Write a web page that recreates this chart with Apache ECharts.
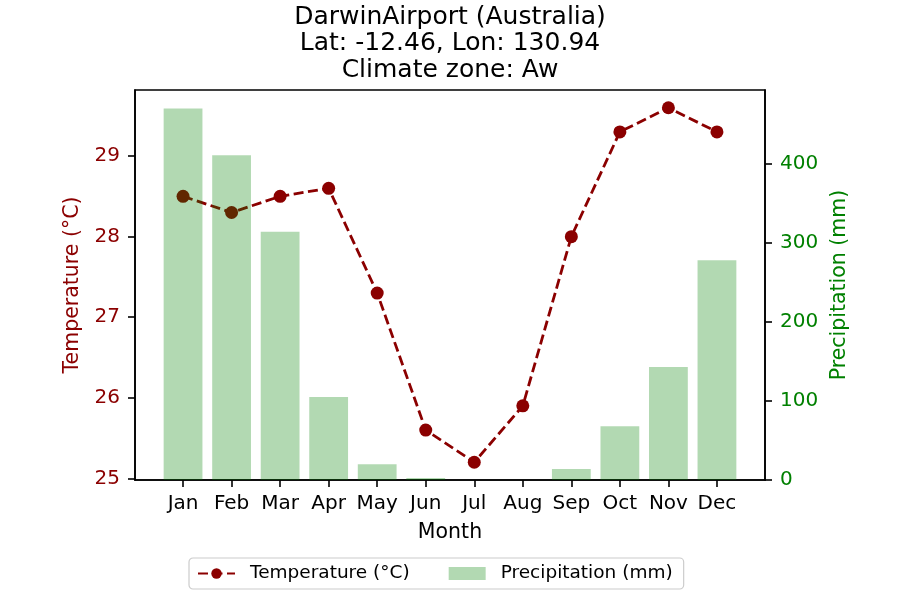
<!DOCTYPE html>
<html>
<head>
<meta charset="utf-8">
<script src="https://cdn.jsdelivr.net/npm/echarts@6/dist/echarts.min.js"></script>
<style>html,body{margin:0;padding:0;background:#fff}#c{width:900px;height:600px}</style>
</head>
<body>
<div id="c"></div>
<script>
const months = ['Jan','Feb','Mar','Apr','May','Jun','Jul','Aug','Sep','Oct','Nov','Dec'];
const temperature = [28.5, 28.3, 28.5, 28.6, 27.3, 25.6, 25.2, 25.9, 28.0, 29.3, 29.6, 29.3];
const precipitation = [470, 411, 314, 105, 20, 2.5, 0, 0, 14, 68, 143, 278];
const tempTicks = [25, 26, 27, 28, 29];
const precipTicks = [0, 100, 200, 300, 400];
const monthTicks = months.map((m, i) => i);

const font = 'DejaVu Sans';
const axisW = 1.6;
const chart = echarts.init(document.getElementById('c'), null, {renderer: 'canvas'});
chart.setOption({
  animation: false,
  backgroundColor: '#ffffff',
  title: {
    text: 'DarwinAirport (Australia)\nLat: -12.46, Lon: 130.94\nClimate zone: Aw',
    left: 'center',
    top: 0,
    padding: [4, 0, 0, 0],
    textStyle: {fontFamily: font, fontSize: 25, fontWeight: 'normal', color: '#000', lineHeight: 26.5}
  },
  legend: {
    bottom: 11,
    left: 189,
    itemWidth: 37,
    itemHeight: 13,
    itemGap: 39,
    padding: [6, 11, 6, 8],
    borderColor: '#cccccc',
    borderWidth: 1.2,
    borderRadius: 4,
    textStyle: {fontFamily: font, fontSize: 18.5, color: '#000', padding: [0, 0, 0, 10]},
    data: [
      {name: 'Temperature (°C)'},
      {name: 'Precipitation (mm)', icon: 'rect'}
    ]
  },
  grid: {left: 135, right: 135, top: 90, bottom: 120, show: true, borderColor: '#000', borderWidth: axisW, backgroundColor: 'transparent'},
  xAxis: {
    type: 'value',
    min: -0.99,
    max: 11.99,
    name: 'Month',
    nameLocation: 'middle',
    nameGap: 42,
    nameTextStyle: {fontFamily: font, fontSize: 20.5, color: '#000'},
    axisLine: {show: true, onZero: false, lineStyle: {color: '#000', width: axisW}},
    axisTick: {show: true, length: 7, customValues: monthTicks, lineStyle: {color: '#000', width: axisW}},
    axisLabel: {customValues: monthTicks, formatter: v => months[Math.round(v)], fontFamily: font, fontSize: 20, color: '#000', margin: 14},
    splitLine: {show: false}
  },
  yAxis: [
    {
      type: 'value',
      position: 'left',
      min: 24.98,
      max: 29.82,
      name: 'Temperature (°C)',
      nameLocation: 'middle',
      nameGap: 52,
      nameTextStyle: {fontFamily: font, fontSize: 20.5, color: '#8B0000'},
      axisLine: {show: true, onZero: false, lineStyle: {color: '#000', width: axisW}},
      axisTick: {show: true, length: 7, customValues: tempTicks, lineStyle: {color: '#000', width: axisW}},
      axisLabel: {customValues: tempTicks, fontFamily: font, fontSize: 20, color: '#8B0000', margin: 15},
      splitLine: {show: false}
    },
    {
      type: 'value',
      position: 'right',
      min: 0,
      max: 493.5,
      name: 'Precipitation (mm)',
      nameLocation: 'middle',
      nameGap: 62,
      nameRotate: 90,
      nameTextStyle: {fontFamily: font, fontSize: 20.5, color: '#008000'},
      axisLine: {show: true, onZero: false, lineStyle: {color: '#000', width: axisW}},
      axisTick: {show: true, length: 7, customValues: precipTicks, lineStyle: {color: '#000', width: axisW}},
      axisLabel: {customValues: precipTicks, fontFamily: font, fontSize: 20, color: '#008000', margin: 15},
      splitLine: {show: false}
    }
  ],
  series: [
    {
      name: 'Temperature (°C)',
      type: 'line',
      xAxisIndex: 0,
      yAxisIndex: 0,
      z: 2,
      data: temperature.map((t, i) => [i, t]),
      symbol: 'circle',
      symbolSize: 13,
      itemStyle: {color: '#8B0000'},
      lineStyle: {color: '#8B0000', width: 2.8, type: [10, 4.5]}
    },
    {
      name: 'Precipitation (mm)',
      type: 'bar',
      xAxisIndex: 0,
      yAxisIndex: 1,
      z: 3,
      barWidth: 38.8,
      data: precipitation.map((p, i) => [i, p]),
      itemStyle: {color: 'rgba(0,128,0,0.3)'}
    }
  ]
});
</script>
</body>
</html>
